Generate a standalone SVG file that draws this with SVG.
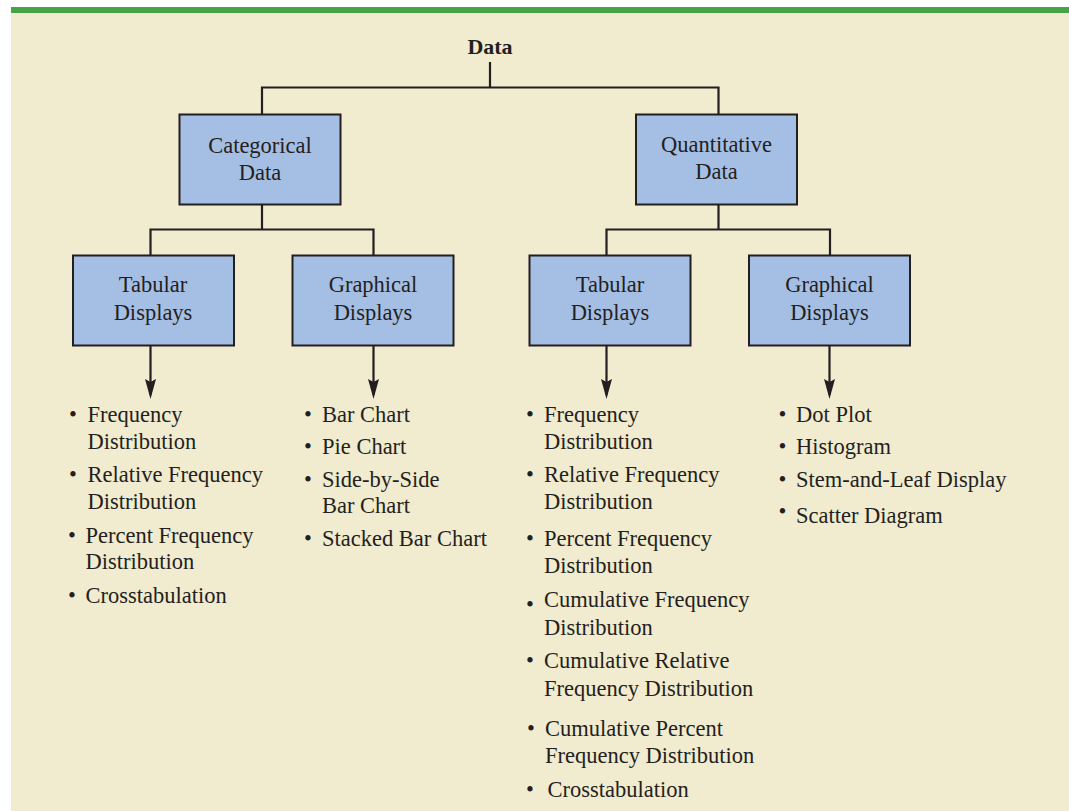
<svg xmlns="http://www.w3.org/2000/svg" width="1069" height="811" viewBox="0 0 1069 811">
  <defs>
    <style>
      .bg { fill: #f1ebcf; }
      .band { fill: #45a447; }
      .box { fill: #a5bee4; stroke: #231f20; stroke-width: 2; }
      .lbl { font-family: "Liberation Serif", "Times New Roman", serif; font-size: 22.5px; fill: #231f20; text-anchor: middle; }
      .title { font-family: "Liberation Serif", "Times New Roman", serif; font-size: 22px; font-weight: bold; fill: #231f20; text-anchor: middle; }
      .item { font-family: "Liberation Serif", "Times New Roman", serif; font-size: 22.5px; fill: #231f20; }
      .bul { font-family: "Liberation Serif", "Times New Roman", serif; font-size: 22.5px; fill: #231f20; text-anchor: middle; }
      .ln { fill: none; stroke: #231f20; stroke-width: 2.2; }
    </style>
    <marker id="arr" markerUnits="userSpaceOnUse" markerWidth="22" markerHeight="12" refX="16" refY="6" orient="auto" viewBox="0 0 22 12">
      <path d="M0,0.5 L20,6 L0,11.5 L3,6 Z" fill="#231f20"/>
    </marker>
  </defs>

  <rect x="0" y="0" width="1069" height="811" fill="#ffffff"/>
  <rect class="bg" x="11" y="13" width="1058" height="798"/>
  <rect class="band" x="11" y="7" width="1058" height="6"/>

  <g id="connectors">
    <path class="ln" d="M490,62 V87.5 M262,87.5 H718.5 M262,86.5 V114 M718.5,86.5 V114"/>
    <path class="ln" d="M262,205 V229.5 M150.5,229.5 H373.5 M150.5,228.5 V255 M373.5,228.5 V255"/>
    <path class="ln" d="M718.5,205 V229.5 M606.5,229.5 H830 M606.5,228.5 V255 M830,228.5 V255"/>
    <path class="ln" d="M150.5,346 V395" marker-end="url(#arr)"/>
    <path class="ln" d="M373.5,346 V395" marker-end="url(#arr)"/>
    <path class="ln" d="M606.5,346 V395" marker-end="url(#arr)"/>
    <path class="ln" d="M829.5,346 V395" marker-end="url(#arr)"/>
  </g>

  <g id="data">
    <text class="title" x="490" y="53.5">Data</text>
  </g>

  <g id="categorical">
    <rect class="box" x="179.5" y="114.5" width="161" height="90"/>
    <text class="lbl" x="260" y="153">Categorical</text>
    <text class="lbl" x="260" y="180">Data</text>
  </g>

  <g id="quantitative">
    <rect class="box" x="636" y="114.5" width="161" height="90"/>
    <text class="lbl" x="716.5" y="151.5">Quantitative</text>
    <text class="lbl" x="716.5" y="179">Data</text>
  </g>

  <g id="cat-tabular">
    <rect class="box" x="73" y="255.5" width="161" height="90"/>
    <text class="lbl" x="153" y="291.5">Tabular</text>
    <text class="lbl" x="153" y="320">Displays</text>
  </g>

  <g id="cat-graphical">
    <rect class="box" x="292.5" y="255.5" width="161" height="90"/>
    <text class="lbl" x="373" y="291.5">Graphical</text>
    <text class="lbl" x="373" y="320">Displays</text>
  </g>

  <g id="quant-tabular">
    <rect class="box" x="529.5" y="255.5" width="161" height="90"/>
    <text class="lbl" x="610" y="291.5">Tabular</text>
    <text class="lbl" x="610" y="320">Displays</text>
  </g>

  <g id="quant-graphical">
    <rect class="box" x="749" y="255.5" width="161" height="90"/>
    <text class="lbl" x="829.5" y="291.5">Graphical</text>
    <text class="lbl" x="829.5" y="320">Displays</text>
  </g>

  <g id="cat-tabular-list">
    <text class="bul" x="73" y="421.5">•</text>
    <text class="item" x="87.5" y="421.5">Frequency</text>
    <text class="item" x="87.5" y="449">Distribution</text>
    <text class="bul" x="73" y="481.5">•</text>
    <text class="item" x="87.5" y="481.5">Relative Frequency</text>
    <text class="item" x="87.5" y="509">Distribution</text>
    <text class="bul" x="72" y="542.5">•</text>
    <text class="item" x="85.5" y="542.5">Percent Frequency</text>
    <text class="item" x="85.5" y="569">Distribution</text>
    <text class="bul" x="72" y="603">•</text>
    <text class="item" x="85.5" y="603">Crosstabulation</text>
  </g>

  <g id="cat-graphical-list">
    <text class="bul" x="308" y="421.5">•</text>
    <text class="item" x="322" y="421.5">Bar Chart</text>
    <text class="bul" x="308" y="453.5">•</text>
    <text class="item" x="322" y="453.5">Pie Chart</text>
    <text class="bul" x="308" y="486.5">•</text>
    <text class="item" x="322" y="486.5">Side-by-Side</text>
    <text class="item" x="322" y="513">Bar Chart</text>
    <text class="bul" x="308" y="545.5">•</text>
    <text class="item" x="322" y="545.5">Stacked Bar Chart</text>
  </g>

  <g id="quant-tabular-list">
    <text class="bul" x="530" y="421.5">•</text>
    <text class="item" x="544" y="421.5">Frequency</text>
    <text class="item" x="544" y="449">Distribution</text>
    <text class="bul" x="530" y="481.5">•</text>
    <text class="item" x="544" y="481.5">Relative Frequency</text>
    <text class="item" x="544" y="509">Distribution</text>
    <text class="bul" x="530" y="546">•</text>
    <text class="item" x="544" y="546">Percent Frequency</text>
    <text class="item" x="544" y="572.5">Distribution</text>
    <text class="bul" x="530" y="611.5">•</text>
    <text class="item" x="544" y="607">Cumulative Frequency</text>
    <text class="item" x="544" y="635">Distribution</text>
    <text class="bul" x="530" y="668">•</text>
    <text class="item" x="544" y="668">Cumulative Relative</text>
    <text class="item" x="544" y="696">Frequency Distribution</text>
    <text class="bul" x="531" y="736">•</text>
    <text class="item" x="545" y="736">Cumulative Percent</text>
    <text class="item" x="545" y="762.5">Frequency Distribution</text>
    <text class="bul" x="530" y="796.5">•</text>
    <text class="item" x="547.5" y="796.5">Crosstabulation</text>
  </g>

  <g id="quant-graphical-list">
    <text class="bul" x="782.5" y="421.5">•</text>
    <text class="item" x="796" y="421.5">Dot Plot</text>
    <text class="bul" x="782.5" y="453.5">•</text>
    <text class="item" x="796" y="453.5">Histogram</text>
    <text class="bul" x="782.5" y="487">•</text>
    <text class="item" x="796" y="487">Stem-and-Leaf Display</text>
    <text class="bul" x="782.5" y="519">•</text>
    <text class="item" x="796" y="522.5">Scatter Diagram</text>
  </g>
</svg>
